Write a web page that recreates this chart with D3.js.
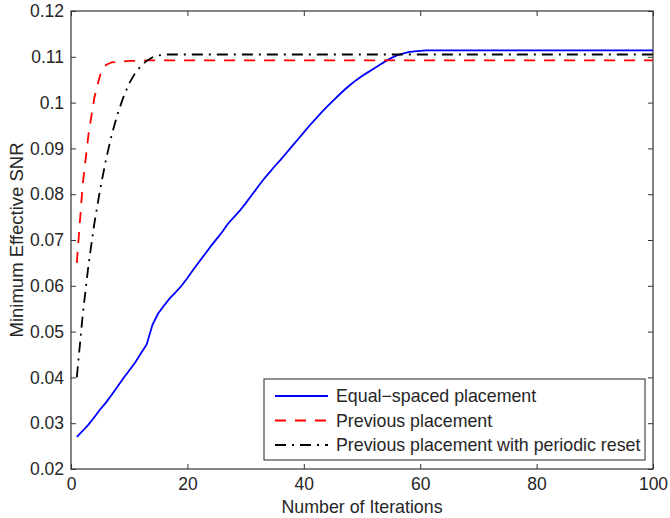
<!DOCTYPE html>
<meta charset="utf-8">
<script src="https://d3js.org/d3.v7.min.js"></script>
<style>
  body { margin: 0; background: #fff; }
  text { font-family: "Liberation Sans", Arial, sans-serif; fill: #262626; }
</style>
<div id="my_dataviz"></div>
<script>

    // iterations 1..100
    const iterations = d3.range(1, 101);

    // values (flat parts filled with the plateau value)
    const equalSpaced = [
        0.0270, 0.0283, 0.0297, 0.0313, 0.0330, 0.0345, 0.0362, 0.0380, 0.0398, 0.0415,
        0.0432, 0.0452, 0.0472, 0.0515, 0.0540, 0.0557, 0.0573, 0.0586, 0.0600, 0.0617,
        0.0635, 0.0652, 0.0669, 0.0686, 0.0702, 0.0718, 0.0736, 0.0750, 0.0764, 0.0780,
        0.0797, 0.0814, 0.0831, 0.0846, 0.0861, 0.0875, 0.0890, 0.0905, 0.0920, 0.0935,
        0.0950, 0.0964, 0.0978, 0.0991, 0.1004, 0.1016, 0.1028, 0.1039, 0.1049, 0.1058,
        0.1066, 0.1074, 0.1082, 0.1090, 0.1097, 0.1103, 0.1107, 0.1110, 0.1112, 0.1113,
        0.1114, 0.1114, 0.1114, 0.1114, 0.1114, 0.1114, 0.1114, 0.1114, 0.1114, 0.1114,
        0.1114, 0.1114, 0.1114, 0.1114, 0.1114, 0.1114, 0.1114, 0.1114, 0.1114, 0.1114,
        0.1114, 0.1114, 0.1114, 0.1114, 0.1114, 0.1114, 0.1114, 0.1114, 0.1114, 0.1114,
        0.1114, 0.1114, 0.1114, 0.1114, 0.1114, 0.1114, 0.1114, 0.1114, 0.1114, 0.1114
    ];

    const previous = [
        0.0650, 0.0820, 0.0930, 0.1010, 0.1060, 0.1082, 0.1088, 0.1089, 0.1090, 0.1091,
        0.1091, 0.1091, 0.1092, 0.1092, 0.1092, 0.1092, 0.1092, 0.1092, 0.1092, 0.1092,
        0.1092, 0.1092, 0.1092, 0.1092, 0.1092, 0.1092, 0.1092, 0.1092, 0.1092, 0.1092,
        0.1092, 0.1092, 0.1092, 0.1092, 0.1092, 0.1092, 0.1092, 0.1092, 0.1092, 0.1092,
        0.1092, 0.1092, 0.1092, 0.1092, 0.1092, 0.1092, 0.1092, 0.1092, 0.1092, 0.1092,
        0.1092, 0.1092, 0.1092, 0.1092, 0.1092, 0.1092, 0.1092, 0.1092, 0.1092, 0.1092,
        0.1092, 0.1092, 0.1092, 0.1092, 0.1092, 0.1092, 0.1092, 0.1092, 0.1092, 0.1092,
        0.1092, 0.1092, 0.1092, 0.1092, 0.1092, 0.1092, 0.1092, 0.1092, 0.1092, 0.1092,
        0.1092, 0.1092, 0.1092, 0.1092, 0.1092, 0.1092, 0.1092, 0.1092, 0.1092, 0.1092,
        0.1092, 0.1092, 0.1092, 0.1092, 0.1092, 0.1092, 0.1092, 0.1092, 0.1092, 0.1092
    ];

    const periodicReset = [
        0.0400, 0.0535, 0.0645, 0.0735, 0.0810, 0.0875, 0.0930, 0.0975, 0.1012, 0.1042,
        0.1064, 0.1080, 0.1091, 0.1099, 0.1103, 0.1105, 0.1105, 0.1105, 0.1105, 0.1105,
        0.1105, 0.1105, 0.1105, 0.1105, 0.1105, 0.1105, 0.1105, 0.1105, 0.1105, 0.1105,
        0.1105, 0.1105, 0.1105, 0.1105, 0.1105, 0.1105, 0.1105, 0.1105, 0.1105, 0.1105,
        0.1105, 0.1105, 0.1105, 0.1105, 0.1105, 0.1105, 0.1105, 0.1105, 0.1105, 0.1105,
        0.1105, 0.1105, 0.1105, 0.1105, 0.1105, 0.1105, 0.1105, 0.1105, 0.1105, 0.1105,
        0.1105, 0.1105, 0.1105, 0.1105, 0.1105, 0.1105, 0.1105, 0.1105, 0.1105, 0.1105,
        0.1105, 0.1105, 0.1105, 0.1105, 0.1105, 0.1105, 0.1105, 0.1105, 0.1105, 0.1105,
        0.1105, 0.1105, 0.1105, 0.1105, 0.1105, 0.1105, 0.1105, 0.1105, 0.1105, 0.1105,
        0.1105, 0.1105, 0.1105, 0.1105, 0.1105, 0.1105, 0.1105, 0.1105, 0.1105, 0.1105
    ];

    const seriesNames = ["Equal\u2212spaced placement", "Previous placement", "Previous placement with periodic reset"];

    const xTicks = [0, 20, 40, 60, 80, 100];
    const yTicks = [0.02, 0.03, 0.04, 0.05, 0.06, 0.07, 0.08, 0.09, 0.10, 0.11, 0.12];
    const yTickLabels = ["0.02", "0.03", "0.04", "0.05", "0.06", "0.07", "0.08", "0.09", "0.1", "0.11", "0.12"];

    // set the dimensions and margins of the graph
    let margin = { top: 11, right: 17, bottom: 49, left: 71 },
        width = 670 - margin.left - margin.right,
        height = 518 - margin.top - margin.bottom;

    let svg = d3.select("#my_dataviz")
        .append("svg")
        .attr("width", 670)
        .attr("height", 518)
        .append("g")
        .attr("transform", "translate(" + margin.left + "," + margin.top + ")");

    let x = d3.scaleLinear().domain([0, 100]).range([0, width]);
    let y = d3.scaleLinear().domain([0.02, 0.12]).range([height, 0]);

    const fontSize = 17.5;
    const axisColor = "#333";

    // bottom axis with inward ticks
    let xAxis = svg.append("g")
        .attr("transform", "translate(0," + height + ")")
        .call(d3.axisBottom(x).tickValues(xTicks).tickSizeInner(-5).tickSizeOuter(0).tickPadding(9));
    // top mirror ticks
    let xTop = svg.append("g")
        .call(d3.axisTop(x).tickValues(xTicks).tickSizeInner(-5).tickSizeOuter(0).tickFormat(""));

    let yAxis = svg.append("g")
        .call(d3.axisLeft(y).tickValues(yTicks).tickSizeInner(-5).tickSizeOuter(0).tickPadding(7)
            .tickFormat((d, i) => yTickLabels[i]));
    let yRight = svg.append("g")
        .attr("transform", "translate(" + width + ",0)")
        .call(d3.axisRight(y).tickValues(yTicks).tickSizeInner(-5).tickSizeOuter(0).tickFormat(""));

    [xAxis, xTop, yAxis, yRight].forEach(g => {
        g.select(".domain").remove();
        g.selectAll(".tick line").attr("stroke", axisColor);
        g.selectAll("text").style("font-size", fontSize + "px").attr("fill", "#262626");
    });

    // box
    svg.append("rect")
        .attr("width", width)
        .attr("height", height)
        .attr("fill", "none")
        .attr("stroke", axisColor)
        .attr("stroke-width", 1.2);

    // lines
    let series = [
        { name: seriesNames[0], values: equalSpaced, color: "#0000ff", dash: null },
        { name: seriesNames[1], values: previous, color: "#ff0000", dash: "11,9" },
        { name: seriesNames[2], values: periodicReset, color: "#000000", dash: "11,6,2,6" }
    ];

    let line = d3.line()
        .x((d, i) => x(iterations[i]))
        .y(d => y(d));

    svg.selectAll(".series")
        .data(series)
        .enter()
        .append("path")
        .attr("class", "series")
        .attr("d", d => line(d.values))
        .attr("fill", "none")
        .attr("stroke", d => d.color)
        .attr("stroke-width", 1.8)
        .attr("stroke-dasharray", d => d.dash);

    // axis labels
    svg.append("text")
        .attr("x", width / 2)
        .attr("y", height + 44)
        .style("text-anchor", "middle")
        .style("font-size", "17.8px")
        .text("Number of Iterations");

    svg.append("text")
        .attr("transform", "translate(" + (-48) + "," + (height / 2) + ") rotate(-90)")
        .style("text-anchor", "middle")
        .style("font-size", "18.5px")
        .text("Minimum Effective SNR");

    // legend
    let legend = svg.append("g")
        .attr("transform", "translate(" + (264 - margin.left) + "," + (379 - margin.top) + ")");

    legend.append("rect")
        .attr("width", 381)
        .attr("height", 81)
        .attr("fill", "#fff")
        .attr("stroke", "#262626")
        .attr("stroke-width", 1);

    let item = legend.selectAll(".legend")
        .data(series)
        .enter().append("g")
        .attr("class", "legend")
        .attr("transform", function (d, i) { return "translate(0," + (17 + i * 24.5) + ")"; });

    item.append("line")
        .attr("x1", 11)
        .attr("x2", 64)
        .attr("stroke", d => d.color)
        .attr("stroke-width", 1.8)
        .attr("stroke-dasharray", d => d.dash);

    item.append("text")
        .attr("x", 72)
        .attr("dy", ".35em")
        .style("font-size", "17.8px")
        .text(d => d.name);

</script>
